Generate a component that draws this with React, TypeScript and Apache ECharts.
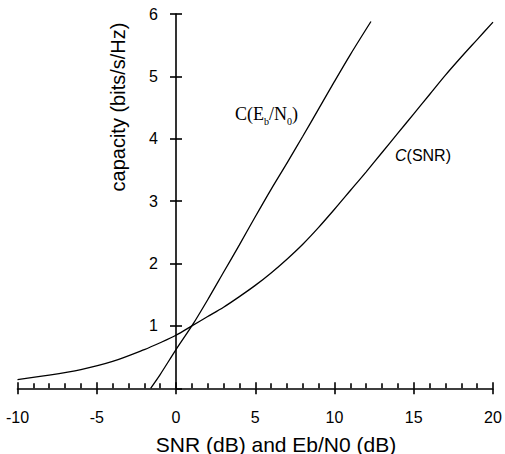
import React, { useEffect, useRef } from "react";
import * as echarts from "echarts";

// C(SNR) curve
const snrDb = [-10, -8, -6, -4, -2, -1, 0, 1, 2, 3, 4, 5, 6, 7, 8, 9, 10, 11, 12, 13, 14, 15, 16, 17, 18, 19, 20];
const capSnr = [0.14, 0.21, 0.3, 0.43, 0.62, 0.73, 0.85, 1.0, 1.15, 1.3, 1.47, 1.65, 1.85, 2.07, 2.31, 2.58, 2.87, 3.17, 3.47, 3.78, 4.09, 4.4, 4.71, 5.02, 5.31, 5.59, 5.87];

// C(Eb/N0) curve
const ebn0Db = [-1.6, -1.0, 0, 1.05, 2, 3, 4, 5, 6, 7, 8, 9, 10, 11, 12.3];
const capEbn0 = [0, 0.22, 0.62, 1.02, 1.42, 1.86, 2.3, 2.75, 3.19, 3.61, 4.04, 4.48, 4.92, 5.35, 5.88];

const xTicks = { min: -10, max: 20, interval: 5 };
const yTicks = { min: 0, max: 6, interval: 1 };

const xName = "SNR (dB) and Eb/N0 (dB)";
const yName = "capacity (bits/s/Hz)";

const SANS = "Liberation Sans, Arial, Helvetica, sans-serif";
const SERIF = "Liberation Serif, Times New Roman, serif";

const GRID_LEFT = 17.5;
const GRID_RIGHT = 12;
const W = 505;

export default function App() {
  const ref = useRef<HTMLDivElement>(null);
  useEffect(() => {
    const chart = echarts.init(ref.current!, null, { renderer: "svg" });
    const lineStyle = { color: "#000", width: 1.6 };
    const tickStyle = { color: "#000", width: 1.6 };
    const plotW = W - GRID_LEFT - GRID_RIGHT;
    const yOffset = -((0 - xTicks.min) / (xTicks.max - xTicks.min)) * plotW;
    chart.setOption({
      animation: false,
      backgroundColor: "#fff",
      grid: {
        left: GRID_LEFT,
        right: GRID_RIGHT,
        top: 14,
        bottom: 65.7,
        containLabel: false,
        outerBoundsMode: "none",
      },
      xAxis: [
        {
          type: "value",
          min: xTicks.min,
          max: xTicks.max,
          interval: xTicks.interval,
          position: "bottom",
          axisLine: { show: true, onZero: false, lineStyle },
          axisTick: { show: true, inside: false, length: 6, lineStyle: tickStyle },
          minorTick: { show: false },
          splitLine: { show: false },
          axisLabel: { margin: 21, fontSize: 16, color: "#000", fontFamily: SANS },
        },
        {
          type: "value",
          min: xTicks.min,
          max: xTicks.max,
          interval: xTicks.interval,
          position: "bottom",
          axisLine: { show: false, onZero: false },
          axisTick: { show: true, inside: true, length: 6, lineStyle: tickStyle },
          minorTick: { show: true, splitNumber: 5, length: 5, lineStyle: tickStyle },
          splitLine: { show: false },
          axisLabel: { show: false },
        },
      ],
      yAxis: [
        {
          type: "value",
          min: yTicks.min,
          max: yTicks.max,
          interval: yTicks.interval,
          position: "left",
          offset: yOffset,
          axisLine: { show: true, onZero: false, lineStyle },
          axisTick: { show: true, inside: false, length: 6, lineStyle: tickStyle },
          splitLine: { show: false },
          axisLabel: { margin: 18, fontSize: 16, color: "#000", fontFamily: SANS, showMinLabel: false },
        },
        {
          type: "value",
          min: yTicks.min,
          max: yTicks.max,
          interval: yTicks.interval,
          position: "left",
          offset: yOffset,
          axisLine: { show: false, onZero: false },
          axisTick: { show: true, inside: true, length: 6, lineStyle: tickStyle },
          splitLine: { show: false },
          axisLabel: { show: false },
        },
      ],
      series: [
        {
          name: "C(SNR)",
          type: "line",
          xAxisIndex: 0,
          yAxisIndex: 0,
          data: snrDb.map((x, i) => [x, capSnr[i]]),
          showSymbol: false,
          smooth: 0.3,
          lineStyle: { color: "#000", width: 1.3 },
          silent: true,
        },
        {
          name: "C(Eb/N0)",
          type: "line",
          xAxisIndex: 0,
          yAxisIndex: 0,
          data: ebn0Db.map((x, i) => [x, capEbn0[i]]),
          showSymbol: false,
          smooth: 0.3,
          lineStyle: { color: "#000", width: 1.3 },
          silent: true,
        },
      ],
      graphic: [
        {
          type: "text",
          x: 276,
          y: 444,
          style: {
            text: xName,
            fontSize: 21,
            fontFamily: SANS,
            fill: "#000",
            textAlign: "center",
            textVerticalAlign: "middle",
          },
        },
        {
          type: "text",
          x: 118,
          y: 107,
          rotation: Math.PI / 2,
          style: {
            text: yName,
            fontSize: 20,
            fontFamily: SANS,
            fill: "#000",
            textAlign: "center",
            textVerticalAlign: "middle",
          },
        },
        {
          type: "text",
          x: 235,
          y: 114,
          style: {
            text: "{n|C(E}{s|b}{n|/N}{s|0}{n|)}",
            fill: "#000",
            textVerticalAlign: "middle",
            rich: {
              n: { fontSize: 18, fontFamily: SERIF, fill: "#000", lineHeight: 24, verticalAlign: "middle" },
              s: { fontSize: 10, fontFamily: SERIF, fill: "#000", lineHeight: 24, verticalAlign: "bottom" },
            },
          },
        },
        {
          type: "text",
          x: 395,
          y: 155,
          style: {
            text: "{i|C}{n|(SNR)}",
            fill: "#000",
            textVerticalAlign: "middle",
            rich: {
              i: { fontSize: 16, fontFamily: SANS, fontStyle: "italic", fill: "#000" },
              n: { fontSize: 16, fontFamily: SANS, fill: "#000" },
            },
          },
        },
      ],
    });
    return () => chart.dispose();
  }, []);
  return <div ref={ref} style={{ position: "absolute", left: 0, top: 0, width: 505, height: 454 }} />;
}
